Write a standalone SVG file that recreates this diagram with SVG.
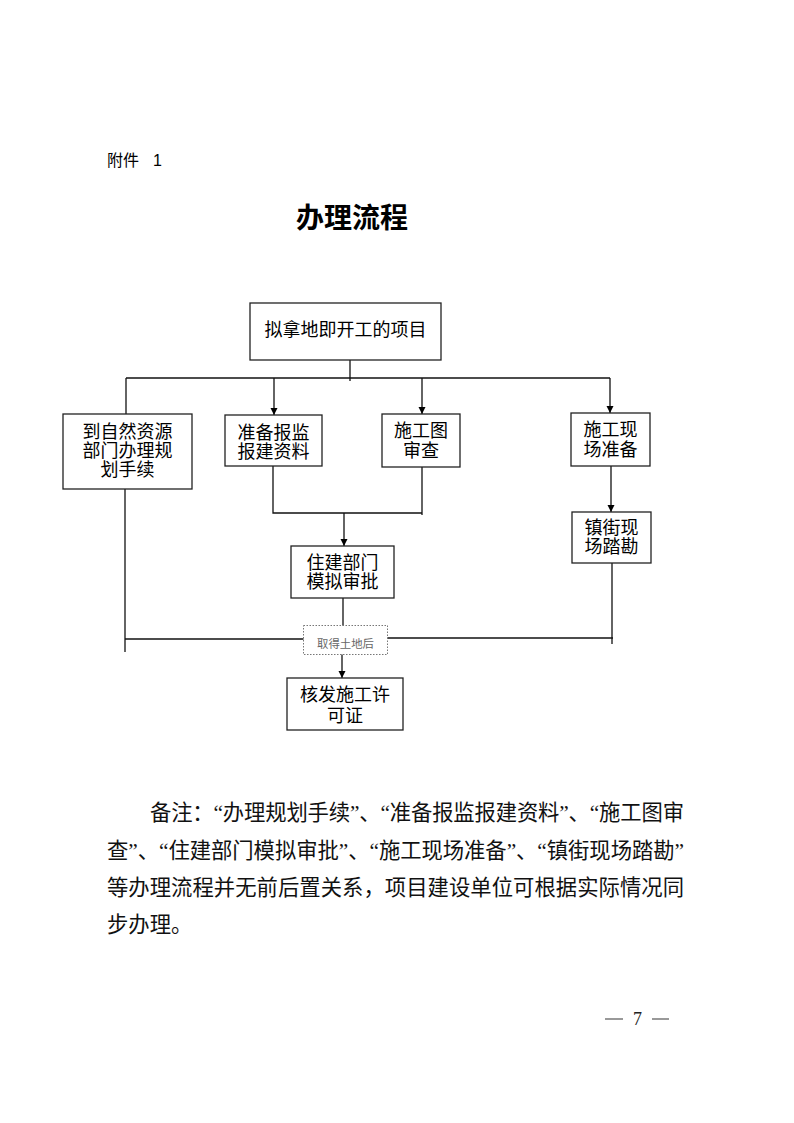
<svg xmlns="http://www.w3.org/2000/svg" width="794" height="1123" viewBox="0 0 794 1123">
<style>
.box{fill:#fff;stroke:#222;stroke-width:1.3}
.lbl{font-family:"Noto Sans CJK SC",sans-serif;font-size:18px;fill:#000;text-anchor:middle}
.ln{stroke:#111;stroke-width:1.3;fill:none}
.body{font-family:"Liberation Serif","Noto Sans CJK SC",serif;font-size:21.33px;fill:#111}
</style>
<defs>
<marker id="ah" markerUnits="userSpaceOnUse" markerWidth="8" markerHeight="8" refX="7" refY="3.5" orient="auto">
<path d="M0,0 L7,3.5 L0,7 z" fill="#000"/>
</marker>
</defs>
<rect width="794" height="1123" fill="#fff"/>

<text x="107" y="166" font-family="Liberation Sans,'Noto Sans CJK SC',sans-serif" font-size="16" fill="#000">附件<tspan x="153">1</tspan></text>
<text x="352" y="228" font-family="'Noto Sans CJK SC',sans-serif" font-size="28" font-weight="700" text-anchor="middle" fill="#000">办理流程</text>

<g id="connectors">
<line class="ln" x1="350" y1="353" x2="350" y2="381"/>
<line class="ln" x1="126" y1="378" x2="610" y2="378"/>
<line class="ln" x1="126" y1="378" x2="126" y2="414"/>
<line class="ln" x1="274" y1="378" x2="274" y2="415" marker-end="url(#ah)"/>
<line class="ln" x1="422" y1="378" x2="422" y2="414" marker-end="url(#ah)"/>
<line class="ln" x1="610" y1="378" x2="610" y2="413" marker-end="url(#ah)"/>
<polyline class="ln" points="273,466 273,513 422,513"/>
<line class="ln" x1="422" y1="466" x2="422" y2="515"/>
<line class="ln" x1="344" y1="513" x2="344" y2="546" marker-end="url(#ah)"/>
<line class="ln" x1="611" y1="466" x2="611" y2="512" marker-end="url(#ah)"/>
<line class="ln" x1="125" y1="489" x2="125" y2="652"/>
<line class="ln" x1="125" y1="639" x2="304" y2="639"/>
<line class="ln" x1="387" y1="638" x2="613" y2="638"/>
<line class="ln" x1="612" y1="563" x2="612" y2="644"/>
<line class="ln" x1="343" y1="598" x2="343" y2="626"/>
<line class="ln" x1="342" y1="654" x2="342" y2="678" marker-end="url(#ah)"/>
</g>

<g id="n-start">
<rect class="box" x="250" y="303" width="191" height="57"/>
<text class="lbl" x="345.5" y="336">拟拿地即开工的项目</text>
</g>
<g id="n-plan">
<rect class="box" x="63" y="414" width="129" height="75"/>
<text class="lbl" x="127.5" y="437.5">到自然资源</text>
<text class="lbl" x="127.5" y="457">部门办理规</text>
<text class="lbl" x="127.5" y="476">划手续</text>
</g>
<g id="n-prepare">
<rect class="box" x="225" y="415" width="97" height="51"/>
<text class="lbl" x="273.5" y="438.5">准备报监</text>
<text class="lbl" x="273.5" y="458">报建资料</text>
</g>
<g id="n-review">
<rect class="box" x="382" y="414" width="78" height="53"/>
<text class="lbl" x="421" y="437">施工图</text>
<text class="lbl" x="421" y="457">审查</text>
</g>
<g id="n-site">
<rect class="box" x="571" y="413" width="79" height="53"/>
<text class="lbl" x="610.5" y="436">施工现</text>
<text class="lbl" x="610.5" y="455.5">场准备</text>
</g>
<g id="n-survey">
<rect class="box" x="572" y="512" width="79" height="51"/>
<text class="lbl" x="611.5" y="533.5">镇街现</text>
<text class="lbl" x="611.5" y="553">场踏勘</text>
</g>
<g id="n-approve">
<rect class="box" x="291" y="546" width="103" height="52"/>
<text class="lbl" x="342.5" y="568.5">住建部门</text>
<text class="lbl" x="342.5" y="588">模拟审批</text>
</g>
<g id="n-label">
<rect x="303.5" y="625.5" width="84" height="29" fill="#fff" stroke="#777" stroke-width="1" stroke-dasharray="1.5,1.5"/>
<text x="345.5" y="648" font-family="'Noto Sans CJK SC',sans-serif" font-size="11.4" fill="#666" text-anchor="middle">取得土地后</text>
</g>
<g id="n-permit">
<rect class="box" x="287" y="678" width="116" height="52"/>
<text class="lbl" x="345" y="701">核发施工许</text>
<text class="lbl" x="345" y="721.5">可证</text>
</g>

<text class="body" x="150" y="820" textLength="534" lengthAdjust="spacing">备注：“办理规划手续”、“准备报监报建资料”、“施工图审</text>
<text class="body" x="107" y="857.5" textLength="577" lengthAdjust="spacing">查”、“住建部门模拟审批”、“施工现场准备”、“镇街现场踏勘”</text>
<text class="body" x="107" y="895" textLength="577" lengthAdjust="spacing">等办理流程并无前后置关系，项目建设单位可根据实际情况同</text>
<text class="body" x="107" y="932">步办理。</text>

<g font-family="'Liberation Serif',serif" font-size="18" fill="#222">
<line x1="605" y1="1019" x2="623" y2="1019" stroke="#555" stroke-width="1.2"/>
<text x="637.5" y="1025" text-anchor="middle">7</text>
<line x1="652" y1="1019" x2="669" y2="1019" stroke="#555" stroke-width="1.2"/>
</g>
</svg>
